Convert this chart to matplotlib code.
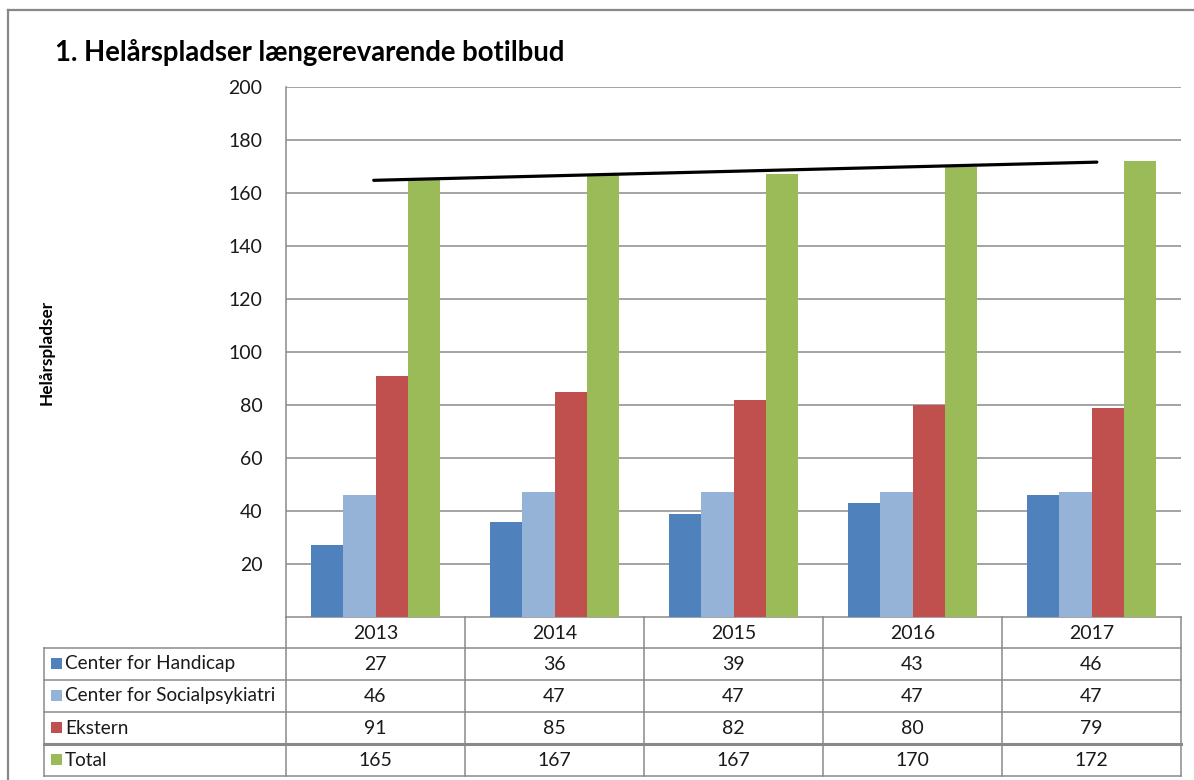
import numpy as np
import matplotlib
matplotlib.use("Agg")
import matplotlib.pyplot as plt

plt.rcParams['font.family'] = ['Lato', 'DejaVu Sans']

years = ["2013", "2014", "2015", "2016", "2017"]
series_names = ["Center for Handicap", "Center for Socialpsykiatri", "Ekstern", "Total"]
handicap = [27, 36, 39, 43, 46]
socialpsyk = [46, 47, 47, 47, 47]
ekstern = [91, 85, 82, 80, 79]
total = [165, 167, 167, 170, 172]
colors = ["#4F81BD", "#95B3D7", "#C0504D", "#9BBB59"]
yticks = [20, 40, 60, 80, 100, 120, 140, 160, 180, 200]

series = [handicap, socialpsyk, ekstern, total]

W, H = 1194, 780
fig = plt.figure(figsize=(W / 100, H / 100), dpi=100)

# plot area in pixels
pl, pr, pt, pb = 286, 1181, 87, 617
ax = fig.add_axes([pl / W, 1 - pb / H, (pr - pl) / W, (pb - pt) / H])
n = len(years)
x = np.arange(n)
bw = 0.1815
for i, (vals, c) in enumerate(zip(series, colors)):
    ax.bar(x + (i - 1.5) * bw, vals, width=bw, color=c, zorder=3, linewidth=0)

# linear trend line of total
coef = np.polyfit(x, total, 1)
xt = np.array([x[0] - 0.01, x[-1] + 0.03])
ax.plot(xt, np.polyval(coef, xt), color="black", lw=2.3, zorder=4,
        solid_capstyle="round")

ax.set_xlim(-0.5, n - 0.5)
ax.set_ylim(0, 200)
ax.set_yticks(yticks)
ax.set_yticklabels([str(v) for v in yticks], fontsize=14, color="#1a1a1a")
ax.tick_params(axis="y", length=0, pad=17)
ax.set_xticks([])
ax.yaxis.grid(True, color="#8a8a8a", lw=1.1, zorder=0)
for s in ["top", "right"]:
    ax.spines[s].set_visible(False)
ax.spines["left"].set_color("#8a8a8a")
ax.spines["bottom"].set_color("#8a8a8a")
ax.spines["left"].set_linewidth(1.1)
ax.spines["bottom"].set_linewidth(1.1)
ax.set_facecolor("none")

# overlay axes in pixel coordinates for table, title, frame
ov = fig.add_axes([0, 0, 1, 1], zorder=5)
ov.set_xlim(0, W)
ov.set_ylim(H, 0)
ov.axis("off")

gc = "#8a8a8a"
colw = (pr - pl) / n
rows_y = [648, 680, 712, 744, 776]
tl = 44
# horizontal lines
for yy in rows_y:
    lw = 2.2 if yy == 744 else 1.1
    ov.plot([tl, pr], [yy, yy], color=gc, lw=lw)
# vertical lines
for k in range(n + 1):
    xx = pl + k * colw
    ov.plot([xx, xx], [pb, rows_y[-1]], color=gc, lw=1.1)
ov.plot([tl, tl], [rows_y[0], rows_y[-1]], color=gc, lw=1.1)

# header years
for k, yr in enumerate(years):
    ov.text(pl + (k + 0.5) * colw, (pb + rows_y[0]) / 2 + 1, yr,
            ha="center", va="center", fontsize=14, color="#1a1a1a")

# rows
for r, (name, vals, c) in enumerate(zip(series_names, series, colors)):
    yc = (rows_y[r] + rows_y[r + 1]) / 2
    ov.add_patch(plt.Rectangle((51, yc - 6), 11, 11, color=c, lw=0))
    ov.text(65, yc, name, ha="left", va="center", fontsize=13.7, color="#1a1a1a")
    for k, v in enumerate(vals):
        ov.text(pl + (k + 0.5) * colw, yc, str(v), ha="center", va="center",
                fontsize=14, color="#1a1a1a")

# title
ov.text(55, 52, "1. Helårspladser længerevarende botilbud", ha="left",
        va="center", fontsize=19.8, fontweight="bold", color="black")
# y label
ov.text(47, 352, "Helårspladser", rotation=90, ha="center", va="center",
        fontsize=12.3, fontweight="bold", color="black")

# outer frame
ov.plot([8, W], [10, 10], color="#888888", lw=1.6)
ov.plot([8, 8], [10, H], color="#888888", lw=1.6)

fig.savefig("out.png", dpi=100, facecolor="white")
